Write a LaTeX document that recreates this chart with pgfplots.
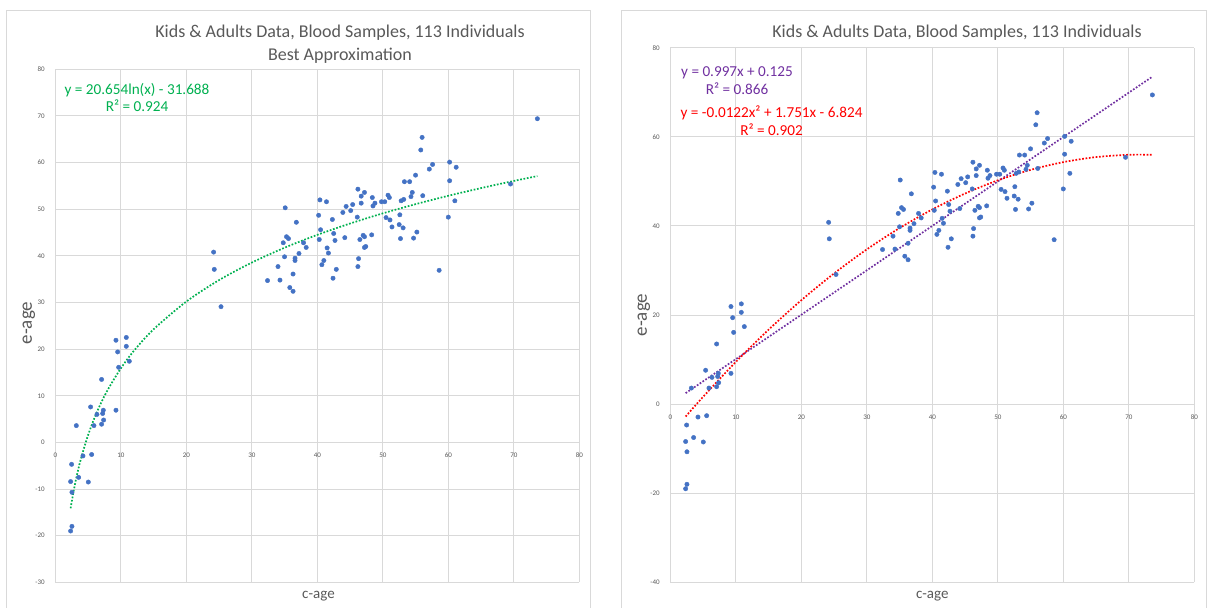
\documentclass[border=0pt]{standalone}
\usepackage{fontspec}
\setmainfont{Carlito}
\usepackage{pgfplots}
\pgfplotsset{compat=1.18}
\usepackage{pgfplotstable}

\definecolor{ptblue}{HTML}{4472C4}
\definecolor{gridgray}{HTML}{D9D9D9}
\definecolor{framegray}{HTML}{D9D9D9}
\definecolor{txtgray}{HTML}{595959}
\definecolor{lngreen}{HTML}{00B050}
\definecolor{lnpurple}{HTML}{7030A0}
\definecolor{lnred}{HTML}{FF0000}

% chronological age (c) vs. estimated age (e), 113 individuals
\pgfplotstableread{
c e
2.34 -19.0
2.54 -18.0
2.49 -4.7
2.34 -8.4
2.54 -10.7
3.21 3.6
3.56 -7.5
4.22 -2.9
5.04 -8.5
5.39 7.6
5.55 -2.6
5.90 3.6
6.36 6.0
7.07 13.5
7.07 3.9
7.23 6.2
7.33 6.9
7.38 4.8
9.26 21.9
9.26 6.9
9.52 19.4
9.67 16.1
10.84 22.5
10.84 20.6
11.30 17.4
24.17 40.8
24.27 37.1
25.30 29.1
32.4 34.7
34.0 37.7
34.3 34.8
34.8 42.8
35.0 39.8
35.1 50.3
35.3 44.1
35.6 43.7
35.8 33.2
36.3 36.1
36.3 32.4
36.6 39.5
36.6 39.0
36.8 47.2
37.2 40.5
37.9 42.8
38.3 41.8
40.2 48.7
40.3 43.5
40.4 52.0
40.5 45.6
40.7 38.1
41.0 39.0
41.4 51.6
41.5 41.7
41.7 40.6
42.3 47.8
42.4 35.2
42.5 44.8
42.7 43.3
42.9 37.1
43.9 49.3
44.2 43.9
44.4 50.6
45.1 49.7
45.4 51.0
46.1 48.3
46.2 54.3
46.3 39.4
46.2 37.7
46.5 43.5
46.7 52.8
46.7 51.3
47.0 44.4
47.2 53.6
47.2 44.1
47.2 41.8
47.4 42.0
48.3 44.5
48.4 52.5
48.5 50.7
48.8 51.3
49.8 51.6
50.3 51.6
50.5 48.2
50.8 53.0
51.0 52.5
51.1 47.7
51.4 46.2
52.5 46.7
52.6 48.8
52.7 43.7
52.8 51.8
53.1 46.0
53.2 52.1
53.3 55.9
54.1 55.9
54.3 52.7
54.5 53.6
54.7 43.8
55.0 57.3
55.2 45.1
55.8 62.7
56.0 65.4
56.1 52.9
57.1 58.6
57.6 59.6
58.6 36.9
60.0 48.3
60.2 60.1
60.2 56.1
61.0 51.8
61.2 59.0
69.5 55.4
73.6 69.4
}\samples

% logarithmic trend: y = 20.654 ln(x) - 31.688
\pgfplotstableread{
x y
2.34 -14.13
2.5 -12.76
3 -9.00
3.5 -5.81
4 -3.06
5 1.55
6 5.32
7 8.50
8 11.26
10 15.87
12 19.64
15 24.24
20 30.19
25 34.80
30 38.56
35 41.74
40 44.50
45 46.93
50 49.11
55 51.08
60 52.88
65 54.53
70 56.06
73.6 57.10
}\logtrend

% linear trend: y = 0.997x + 0.125
\pgfplotstableread{
x y
2.34 2.46
73.6 73.50
}\lintrend

% quadratic trend: y = -0.0122x^2 + 1.751x - 6.824
\pgfplotstableread{
x y
2.34 -2.79
5 1.63
10 9.47
15 16.70
20 23.32
25 29.33
30 34.73
35 39.52
40 43.70
45 47.27
50 50.23
55 52.58
60 54.32
65 55.45
70 55.97
73.6 55.96
}\quadtrend

\pgfplotsset{
  excelscatter/.style={
    scale only axis,
    width=262pt,
    anchor=south west,
    xmin=0, xmax=80, xtick={0,10,...,80},
    grid=major,
    grid style={gridgray, line width=0.5pt},
    axis x line=middle, axis y line=left,
    axis line style={gridgray, line width=0.5pt, -},
    hide obscured x ticks=false, hide obscured y ticks=false,
    major tick length=0pt,
    tick label style={font=\fontsize{3.5}{4}\selectfont, text=txtgray},
    xticklabel style={yshift=-1.8pt},
    yticklabel style={xshift=-1.8pt},
    /pgf/number format/assume math mode=true,
    clip=false,
  },
  dots/.style={ptblue, only marks, mark=*, mark size=1.1pt,
    mark options={solid, fill=ptblue, draw=ptblue, line width=0.2pt}},
  trend/.style={line width=0.85pt, dash pattern=on 0.85pt off 0.85pt, no marks},
}

\begin{document}
\begin{tikzpicture}
\useasboundingbox (0,0) rectangle (604pt,303.5pt);

% chart frames
\draw[framegray, line width=0.5pt] (3.15pt,-2pt) -- (3.15pt,298.35pt) -- (295.15pt,298.35pt) -- (295.15pt,-2pt);
\draw[framegray, line width=0.5pt] (310.65pt,-2pt) -- (310.65pt,298.35pt) -- (603pt,298.35pt) -- (603pt,-2pt);

% left chart: logarithmic fit
\begin{axis}[excelscatter, at={(27.65pt,12.35pt)}, height=256.5pt,
    ymin=-30, ymax=80, ytick={-30,-20,...,80}]
  \addplot[dots] table[x=c, y=e] {\samples};
  \addplot[trend, lngreen, smooth] table[x=x, y=y] {\logtrend};
\end{axis}

% right chart: linear and quadratic fits
\begin{axis}[excelscatter, at={(335.15pt,12.35pt)}, height=267.3pt,
    ymin=-40, ymax=80, ytick={-40,-20,...,80}]
  \addplot[dots] table[x=c, y=e] {\samples};
  \addplot[trend, lnpurple] table[x=x, y=y] {\lintrend};
  \addplot[trend, lnred, smooth] table[x=x, y=y] {\quadtrend};
\end{axis}

% titles
\node[anchor=base, font=\fontsize{9}{10}\selectfont, text=txtgray] at (170pt,284.85pt)
  {Kids \& Adults Data, Blood Samples, 113 Individuals};
\node[anchor=base, font=\fontsize{9}{10}\selectfont, text=txtgray] at (170pt,273.5pt)
  {Best Approximation};
\node[anchor=base, font=\fontsize{9}{10}\selectfont, text=txtgray] at (478.5pt,285pt)
  {Kids \& Adults Data, Blood Samples, 113 Individuals};

% axis titles
\node[rotate=90, font=\fontsize{9.5}{11}\selectfont, text=txtgray] at (14.5pt,142pt) {e-age};
\node[anchor=base, font=\fontsize{7.5}{9}\selectfont, text=txtgray] at (159.25pt,4.5pt) {c-age};
\node[rotate=90, font=\fontsize{9.5}{11}\selectfont, text=txtgray] at (321.9pt,146pt) {e-age};
\node[anchor=base, font=\fontsize{7.5}{9}\selectfont, text=txtgray] at (466.15pt,4.5pt) {c-age};

% trendline equations
\node[anchor=base, font=\fontsize{7.6}{9}\selectfont, text=lngreen] at (68.5pt,256.4pt)
  {y = 20.654ln(x) - 31.688};
\node[anchor=base, font=\fontsize{7.6}{9}\selectfont, text=lngreen] at (68.5pt,247.7pt)
  {R² = 0.924};
\node[anchor=base, font=\fontsize{7.6}{9}\selectfont, text=lnpurple] at (368.5pt,265.2pt)
  {y = 0.997x + 0.125};
\node[anchor=base, font=\fontsize{7.6}{9}\selectfont, text=lnpurple] at (368.5pt,256.5pt)
  {R² = 0.866};
\node[anchor=base, font=\fontsize{7.6}{9}\selectfont, text=lnred] at (385.75pt,244.8pt)
  {y = -0.0122x² + 1.751x - 6.824};
\node[anchor=base, font=\fontsize{7.6}{9}\selectfont, text=lnred] at (385.75pt,236pt)
  {R² = 0.902};
\end{tikzpicture}
\end{document}
